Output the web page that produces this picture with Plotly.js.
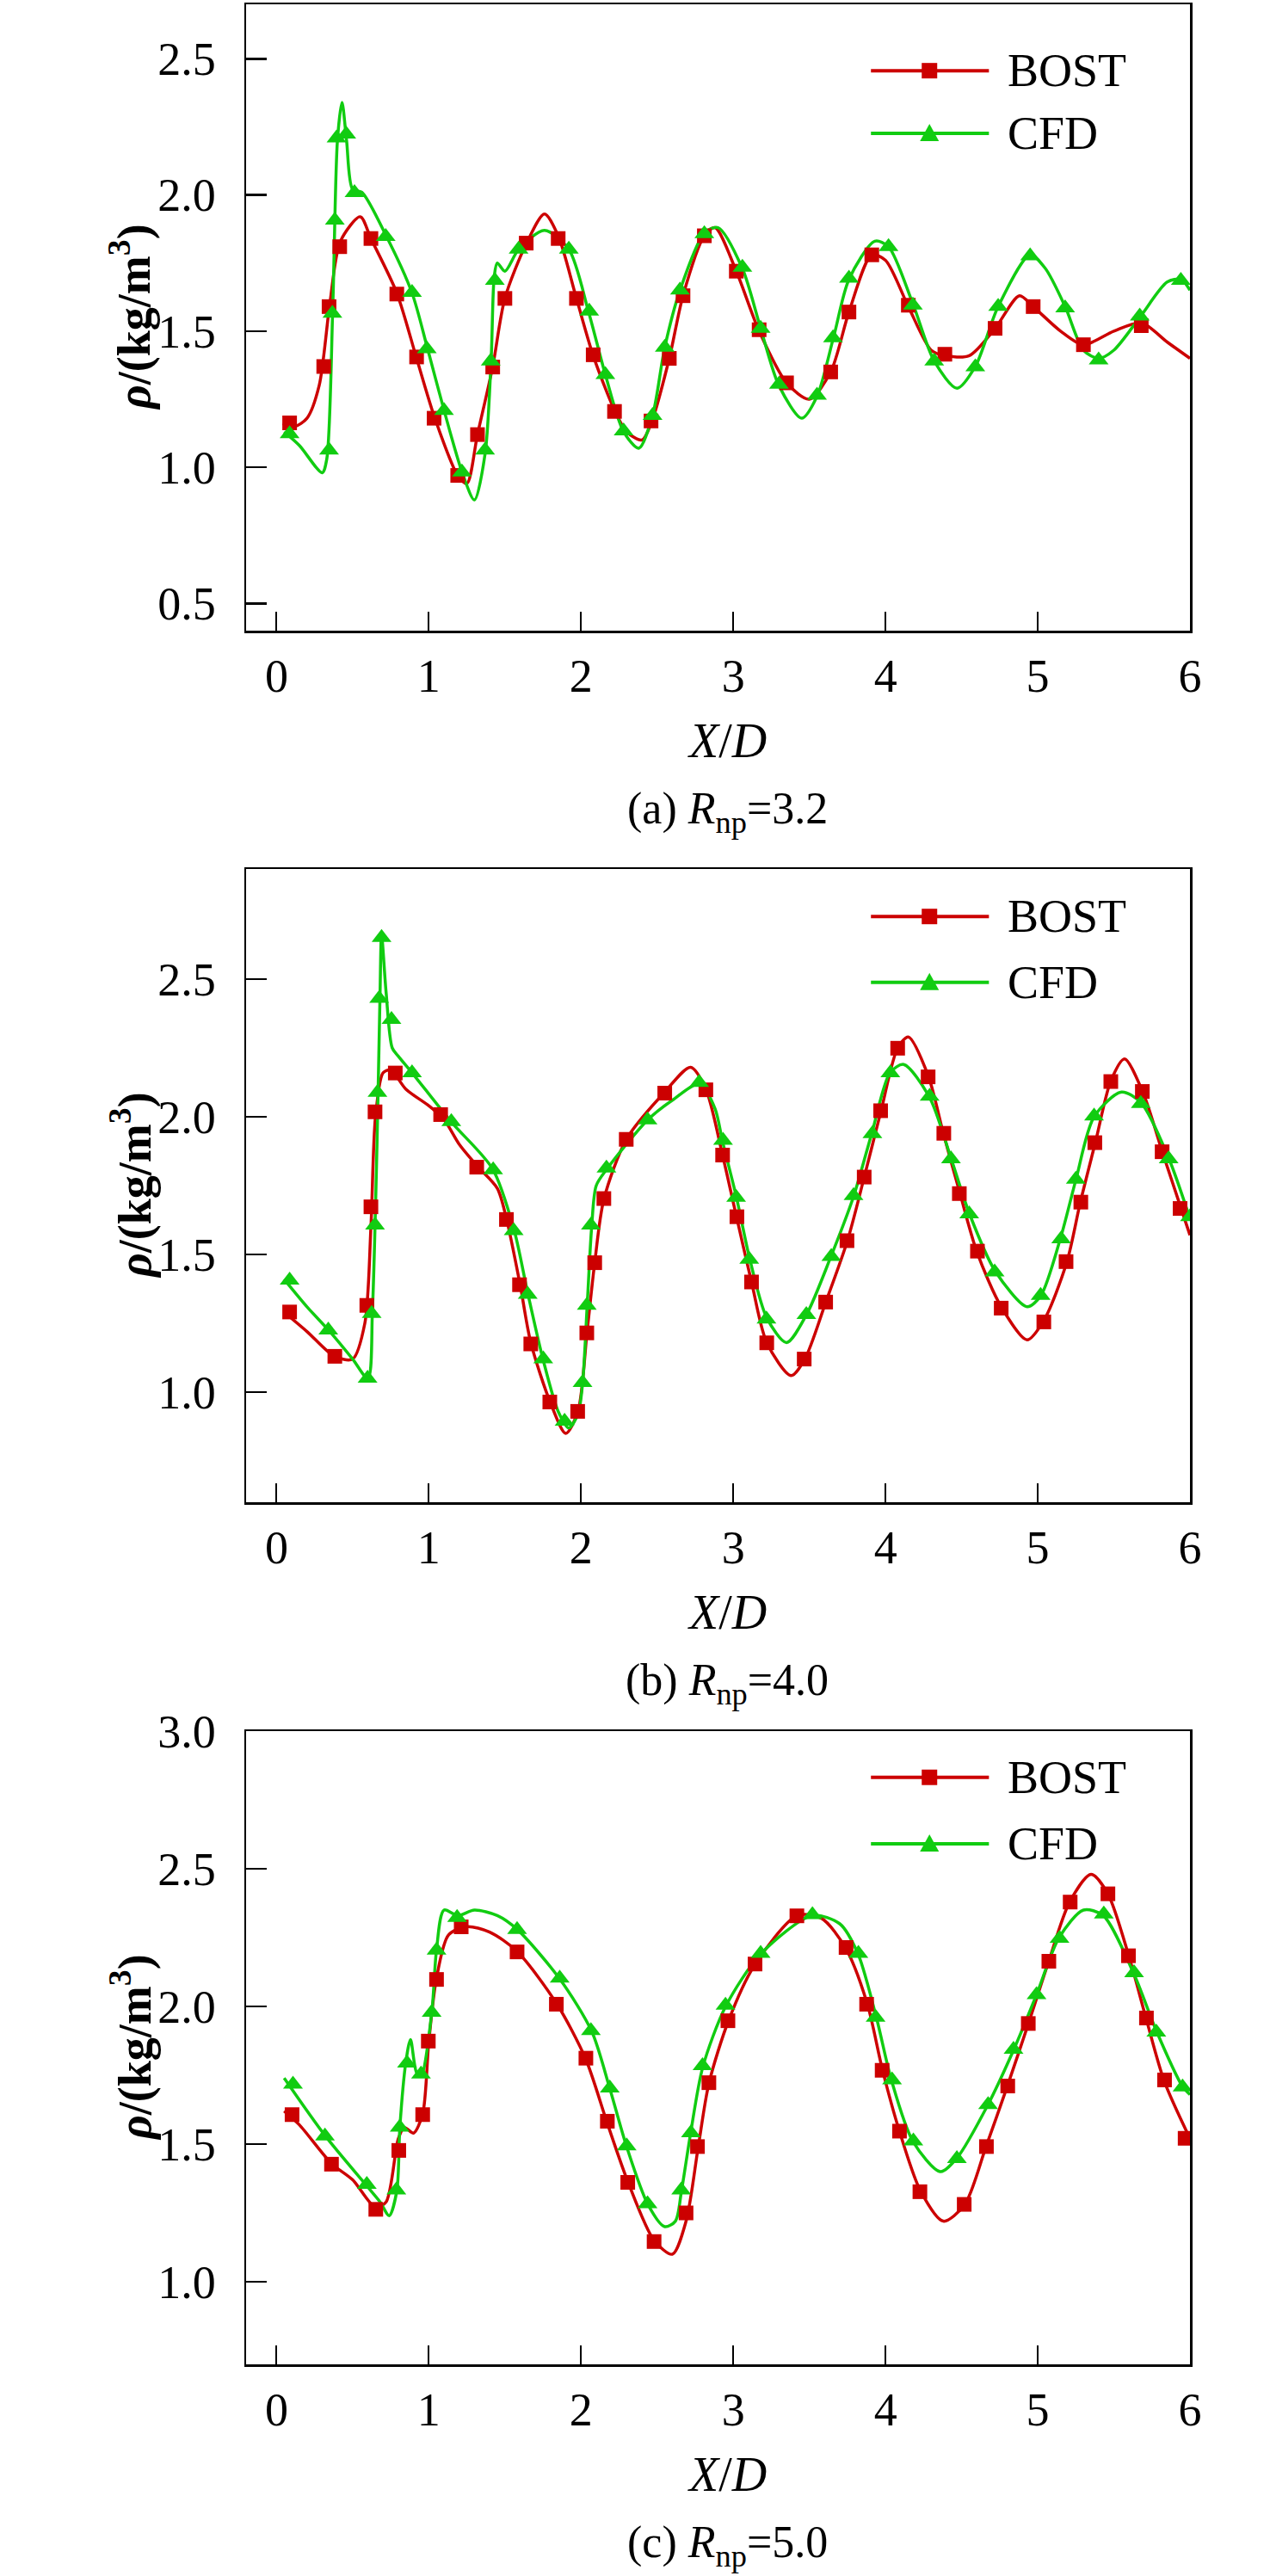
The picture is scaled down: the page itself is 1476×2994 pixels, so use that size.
<!DOCTYPE html>
<html>
<head>
<meta charset="utf-8">
<script src="https://cdn.plot.ly/plotly-3.0.1.min.js"></script>
<style>body{margin:0;background:#fff}#chart{width:1476px;height:2994px}</style>
</head>
<body>
<div id="chart"></div>
<script>
// (a) Rnp=3.2
const bostCurveA_x = [0.04,0.12,0.2,0.28,0.35,0.42,0.55,0.62,0.79,0.92,1.04,1.19,1.25,1.32,1.42,1.5,1.64,1.76,1.85,1.97,2.08,2.22,2.3,2.4,2.46,2.58,2.67,2.81,2.88,3.02,3.17,3.35,3.5,3.64,3.76,3.91,4.0,4.15,4.3,4.39,4.55,4.72,4.88,4.97,5.15,5.3,5.5,5.68,5.85,6.0];
const bostCurveA_y = [1.16,1.15,1.18,1.3,1.6,1.83,1.92,1.84,1.64,1.40,1.18,0.97,0.94,1.12,1.37,1.62,1.82,1.93,1.85,1.62,1.41,1.21,1.13,1.10,1.16,1.40,1.63,1.85,1.88,1.72,1.5,1.31,1.25,1.35,1.57,1.78,1.76,1.59,1.43,1.41,1.41,1.51,1.63,1.59,1.5,1.45,1.50,1.53,1.46,1.40];
const bostMarkA_x = [0.086,0.31,0.345,0.415,0.62,0.79,0.92,1.035,1.19,1.32,1.42,1.5,1.64,1.85,1.97,2.08,2.22,2.46,2.58,2.67,2.81,3.02,3.17,3.35,3.64,3.76,3.91,4.15,4.39,4.72,4.97,5.3,5.68];
const bostMarkA_y = [1.163,1.37,1.59,1.81,1.84,1.636,1.405,1.18,0.97,1.12,1.368,1.62,1.823,1.84,1.62,1.413,1.205,1.17,1.40,1.63,1.85,1.72,1.505,1.31,1.35,1.57,1.78,1.595,1.415,1.51,1.59,1.45,1.52];
const cfdCurveA_x = [0.05,0.15,0.3,0.33,0.37,0.40,0.43,0.46,0.50,0.56,0.72,0.89,0.99,1.10,1.22,1.30,1.37,1.41,1.43,1.45,1.50,1.59,1.76,1.92,2.05,2.16,2.28,2.38,2.47,2.55,2.65,2.81,2.90,3.06,3.18,3.30,3.45,3.55,3.66,3.76,3.93,4.02,4.18,4.32,4.47,4.59,4.74,4.95,5.05,5.18,5.30,5.40,5.50,5.67,5.85,5.94,6.0];
const cfdCurveA_y = [1.13,1.08,0.98,1.03,1.6,2.2,2.34,2.2,2.02,2.01,1.85,1.64,1.44,1.21,0.98,0.88,1.05,1.40,1.70,1.75,1.72,1.80,1.87,1.80,1.57,1.34,1.13,1.07,1.19,1.44,1.65,1.86,1.88,1.73,1.51,1.30,1.18,1.26,1.48,1.69,1.83,1.81,1.60,1.39,1.29,1.37,1.59,1.78,1.73,1.59,1.43,1.40,1.43,1.55,1.68,1.69,1.65];
const cfdMarkA_x = [0.086,0.345,0.367,0.383,0.394,0.458,0.512,0.717,0.89,0.987,1.10,1.218,1.37,1.407,1.434,1.59,1.92,2.054,2.16,2.28,2.47,2.55,2.65,2.81,3.06,3.18,3.30,3.55,3.655,3.76,4.02,4.18,4.32,4.59,4.74,4.95,5.18,5.40,5.67,5.94];
const cfdMarkA_y = [1.123,1.063,1.565,1.907,2.209,2.223,2.008,1.847,1.642,1.435,1.208,0.982,1.063,1.39,1.686,1.80,1.80,1.573,1.34,1.133,1.19,1.44,1.65,1.857,1.734,1.51,1.304,1.264,1.475,1.694,1.81,1.595,1.39,1.368,1.59,1.776,1.585,1.394,1.555,1.686];

// (b) Rnp=4.0
const bostCurveB_x = [0.05,0.2,0.38,0.5,0.58,0.62,0.65,0.70,0.75,0.85,1.0,1.10,1.2,1.32,1.45,1.51,1.6,1.67,1.80,1.90,1.98,2.04,2.09,2.15,2.30,2.55,2.72,2.82,2.93,3.02,3.12,3.22,3.38,3.47,3.61,3.75,3.86,3.97,4.08,4.15,4.28,4.38,4.49,4.60,4.76,4.93,5.04,5.19,5.28,5.38,5.48,5.57,5.69,5.82,5.94,6.0];
const bostCurveB_y = [1.29,1.22,1.13,1.12,1.25,1.6,2.0,2.16,2.17,2.10,2.04,1.99,1.90,1.82,1.74,1.63,1.39,1.18,0.96,0.85,0.93,1.22,1.47,1.70,1.92,2.09,2.18,2.10,1.86,1.64,1.40,1.18,1.06,1.12,1.33,1.55,1.78,2.02,2.25,2.29,2.15,1.94,1.72,1.51,1.31,1.19,1.26,1.47,1.69,1.91,2.13,2.21,2.09,1.87,1.67,1.57];
const bostMarkB_x = [0.086,0.383,0.593,0.62,0.647,0.78,1.078,1.315,1.51,1.596,1.67,1.795,1.978,2.038,2.09,2.15,2.297,2.55,2.82,2.93,3.024,3.12,3.22,3.466,3.607,3.747,3.86,3.968,4.08,4.28,4.383,4.485,4.604,4.76,5.04,5.186,5.283,5.375,5.48,5.687,5.817,5.935];
const bostMarkB_y = [1.291,1.13,1.315,1.673,2.018,2.159,2.008,1.817,1.627,1.39,1.175,0.964,0.93,1.215,1.47,1.703,1.918,2.086,2.098,1.861,1.637,1.40,1.179,1.12,1.327,1.55,1.781,2.022,2.249,2.145,1.94,1.721,1.512,1.305,1.255,1.474,1.69,1.906,2.128,2.092,1.873,1.667];
const cfdCurveB_x = [0.05,0.2,0.35,0.5,0.60,0.63,0.66,0.68,0.69,0.72,0.76,0.8,0.89,1.15,1.42,1.56,1.65,1.75,1.85,1.92,1.98,2.01,2.04,2.07,2.10,2.17,2.44,2.6,2.78,2.88,2.93,3.02,3.11,3.22,3.35,3.48,3.64,3.79,3.91,4.03,4.12,4.29,4.43,4.55,4.72,4.93,5.02,5.15,5.25,5.37,5.55,5.68,5.86,6.0];
const cfdCurveB_y = [1.41,1.31,1.22,1.12,1.05,1.3,1.9,2.45,2.66,2.45,2.25,2.22,2.16,1.98,1.81,1.59,1.36,1.12,0.93,0.87,0.92,1.03,1.31,1.60,1.75,1.81,1.99,2.06,2.12,2.03,1.91,1.71,1.48,1.27,1.18,1.28,1.49,1.71,1.94,2.16,2.19,2.07,1.85,1.65,1.44,1.31,1.35,1.56,1.77,2.00,2.09,2.05,1.85,1.63];
const cfdMarkB_x = [0.086,0.34,0.598,0.625,0.647,0.663,0.674,0.69,0.755,0.89,1.148,1.423,1.558,1.65,1.752,1.892,2.01,2.038,2.065,2.167,2.437,2.776,2.933,3.019,3.105,3.218,3.48,3.644,3.79,3.914,4.032,4.29,4.43,4.55,4.717,5.019,5.154,5.25,5.37,5.677,5.86,6.0];
const cfdMarkB_y = [1.406,1.225,1.05,1.285,1.606,2.088,2.43,2.651,2.353,2.159,1.982,1.807,1.586,1.355,1.12,0.894,1.034,1.315,1.606,1.813,1.988,2.124,1.914,1.707,1.482,1.265,1.281,1.492,1.713,1.938,2.159,2.074,1.847,1.647,1.436,1.351,1.556,1.773,2.002,2.048,1.847,1.637];

// (c) Rnp=5.0
const bostCurveC_x = [0.05,0.15,0.36,0.5,0.65,0.72,0.80,0.84,0.90,0.96,1.00,1.05,1.13,1.25,1.40,1.58,1.84,2.03,2.17,2.31,2.48,2.6,2.69,2.77,2.84,2.97,3.14,3.42,3.58,3.74,3.88,3.98,4.09,4.23,4.38,4.52,4.66,4.80,4.94,5.07,5.21,5.35,5.46,5.60,5.71,5.83,6.0];
const bostCurveC_y = [1.62,1.57,1.43,1.37,1.27,1.29,1.52,1.56,1.54,1.61,1.87,2.10,2.26,2.29,2.27,2.20,2.01,1.81,1.58,1.36,1.15,1.10,1.22,1.49,1.72,1.95,2.15,2.33,2.32,2.21,2.01,1.77,1.55,1.33,1.22,1.28,1.49,1.71,1.94,2.16,2.38,2.48,2.41,2.18,1.96,1.73,1.52];
const bostMarkC_x = [0.102,0.361,0.652,0.803,0.96,0.997,1.051,1.213,1.58,1.838,2.032,2.173,2.307,2.48,2.69,2.765,2.84,2.965,3.143,3.418,3.741,3.876,3.978,4.092,4.226,4.517,4.663,4.803,4.938,5.073,5.213,5.461,5.596,5.714,5.833,5.968];
const bostMarkC_y = [1.607,1.427,1.263,1.477,1.607,1.874,2.098,2.289,2.198,2.008,1.812,1.583,1.361,1.146,1.25,1.491,1.723,1.948,2.154,2.329,2.214,2.008,1.768,1.547,1.327,1.281,1.491,1.711,1.938,2.164,2.379,2.409,2.184,1.958,1.733,1.521];
const cfdCurveC_x = [0.05,0.32,0.59,0.68,0.74,0.79,0.81,0.85,0.88,0.92,0.95,1.02,1.05,1.1,1.19,1.30,1.45,1.58,1.86,2.07,2.19,2.30,2.44,2.55,2.62,2.66,2.72,2.80,2.95,3.18,3.52,3.7,3.82,3.94,4.04,4.18,4.36,4.47,4.67,4.84,4.99,5.14,5.30,5.43,5.63,5.78,5.95,6.0];
const cfdCurveC_y = [1.74,1.53,1.35,1.29,1.24,1.33,1.56,1.80,1.88,1.76,1.75,1.98,2.20,2.35,2.33,2.35,2.33,2.28,2.10,1.91,1.70,1.49,1.28,1.20,1.22,1.33,1.54,1.78,2.00,2.19,2.33,2.30,2.19,1.96,1.73,1.51,1.40,1.45,1.64,1.84,2.04,2.25,2.35,2.33,2.12,1.91,1.71,1.68];
const cfdMarkC_x = [0.108,0.318,0.593,0.787,0.809,0.857,0.949,1.019,1.051,1.186,1.58,1.86,2.065,2.189,2.30,2.437,2.658,2.722,2.798,2.949,3.18,3.52,3.822,3.935,4.043,4.183,4.469,4.674,4.841,4.992,5.143,5.434,5.633,5.779,5.951];
const cfdMarkC_y = [1.717,1.529,1.353,1.333,1.561,1.794,1.754,1.978,2.204,2.323,2.279,2.102,1.912,1.703,1.493,1.283,1.333,1.541,1.784,2.004,2.192,2.333,2.192,1.96,1.733,1.511,1.447,1.643,1.844,2.042,2.247,2.335,2.122,1.906,1.707];

const captions = ['(a) <i>R</i><sub>np</sub>=3.2', '(b) <i>R</i><sub>np</sub>=4.0', '(c) <i>R</i><sub>np</sub>=5.0'];
const yRanges = [[0.4, 2.7], [0.6, 2.9], [0.7, 3.0]];
const yTicks = [[0.5, 1.0, 1.5, 2.0, 2.5], [1.0, 1.5, 2.0, 2.5], [1.0, 1.5, 2.0, 2.5, 3.0]];
const xTicks = [0, 1, 2, 3, 4, 5, 6];
const seriesNames = ['BOST', 'CFD'];

const RED = '#cc0000', GREEN = '#11cc11';
const FONT = 'Liberation Serif, Times New Roman, serif';
const H = 2994, W = 1476;
// frame pixel positions [top, bottom] per panel
const frames = [[5, 733], [1010, 1746], [2012, 2748]];
const FL = 286, FR = 1383;

const panels = [
  [bostCurveA_x, bostCurveA_y, bostMarkA_x, bostMarkA_y, cfdCurveA_x, cfdCurveA_y, cfdMarkA_x, cfdMarkA_y],
  [bostCurveB_x, bostCurveB_y, bostMarkB_x, bostMarkB_y, cfdCurveB_x, cfdCurveB_y, cfdMarkB_x, cfdMarkB_y],
  [bostCurveC_x, bostCurveC_y, bostMarkC_x, bostMarkC_y, cfdCurveC_x, cfdCurveC_y, cfdMarkC_x, cfdMarkC_y],
];
const legendY = [[0.894, 0.794], [0.925, 0.821], [0.927, 0.822]];

const traces = [], shapes = [], annotations = [];
const layout = {
  width: W, height: H, paper_bgcolor: '#fff', plot_bgcolor: '#fff',
  margin: { l: 0, r: 0, t: 0, b: 0 }, showlegend: false,
  font: { family: FONT, color: '#000', size: 50 },
};

panels.forEach((p, i) => {
  const n = i === 0 ? '' : String(i + 1);
  const xa = 'x' + n, ya = 'y' + n;
  const [bcx, bcy, bmx, bmy, ccx, ccy, cmx, cmy] = p;
  traces.push(
    { x: bcx, y: bcy, xaxis: xa, yaxis: ya, mode: 'lines', line: { color: RED, width: 3.5, shape: 'spline', smoothing: 0.8 } },
    { x: ccx, y: ccy, xaxis: xa, yaxis: ya, mode: 'lines', line: { color: GREEN, width: 3.5, shape: 'spline', smoothing: 0.8 } },
    { x: bmx, y: bmy, xaxis: xa, yaxis: ya, mode: 'markers', marker: { symbol: 'square', size: 17, color: RED } },
    { x: cmx, y: cmy, xaxis: xa, yaxis: ya, mode: 'markers', marker: { symbol: 'triangle-up', size: 20, color: GREEN } },
  );
  const [top, bot] = frames[i];
  const dom = [1 - bot / H, 1 - top / H];
  layout['xaxis' + n] = {
    domain: [FL / W, FR / W], anchor: ya, range: [-0.2, 6], tickvals: xTicks,
    ticks: 'inside', ticklen: 22, tickwidth: 2, tickcolor: '#000',
    showline: true, linecolor: '#000', linewidth: 2.5, mirror: true, showgrid: false, zeroline: false,
    tickfont: { family: FONT, size: 54 }, ticklabelstandoff: 4,
  };
  layout['yaxis' + n] = {
    domain: dom, anchor: xa, range: yRanges[i], tickvals: yTicks[i],
    tickformat: '.1f', ticks: 'inside', ticklen: 24, tickwidth: 2.5, tickcolor: '#000',
    showline: true, linecolor: '#000', linewidth: 2.5, mirror: true, showgrid: false, zeroline: false,
    tickfont: { family: FONT, size: 54 }, ticklabelstandoff: 22,
  };
  // axis titles and caption
  annotations.push(
    { xref: 'paper', yref: 'paper', x: 152 / W, y: 1 - (top + bot) / 2 / H, xanchor: 'center', yanchor: 'middle',
      textangle: -90, showarrow: false,
      text: '<b><i>ρ</i>/(kg/m<sup>3</sup>)</b>', font: { family: FONT, size: 54 } },
    { xref: 'paper', yref: 'paper', x: 845 / W, y: 1 - (bot + 128) / H, xanchor: 'center', yanchor: 'middle',
      showarrow: false, text: '<i>X</i>/<i>D</i>', font: { family: FONT, size: 56 } },
    { xref: 'paper', yref: 'paper', x: 845 / W, y: 1 - (bot + 210) / H, xanchor: 'center', yanchor: 'middle',
      showarrow: false, text: captions[i], font: { family: FONT, size: 52 } },
  );
  // legend drawn in axis-domain coordinates
  const colors = [RED, GREEN];
  seriesNames.forEach((nm, k) => {
    const ly = legendY[i][k];
    shapes.push({ type: 'line', xref: xa + ' domain', yref: ya + ' domain', x0: 0.662, x1: 0.787, y0: ly, y1: ly,
      line: { color: colors[k], width: 4 } });
    const path = k === 0 ? 'M-9,-9 L9,-9 L9,9 L-9,9 Z' : 'M-11,-9 L11,-9 L0,11 Z';
    shapes.push({ type: 'path', xref: xa + ' domain', yref: ya + ' domain', xsizemode: 'pixel', ysizemode: 'pixel',
      xanchor: 0.724, yanchor: ly, path, fillcolor: colors[k], line: { width: 0 } });
    annotations.push({ xref: xa + ' domain', yref: ya + ' domain', x: 0.805, y: ly, xanchor: 'left', yanchor: 'middle',
      showarrow: false, text: nm, font: { family: FONT, size: 54 } });
  });
});
layout.shapes = shapes;
layout.annotations = annotations;

Plotly.newPlot('chart', traces, layout, { displayModeBar: false, staticPlot: true });
</script>
</body>
</html>
